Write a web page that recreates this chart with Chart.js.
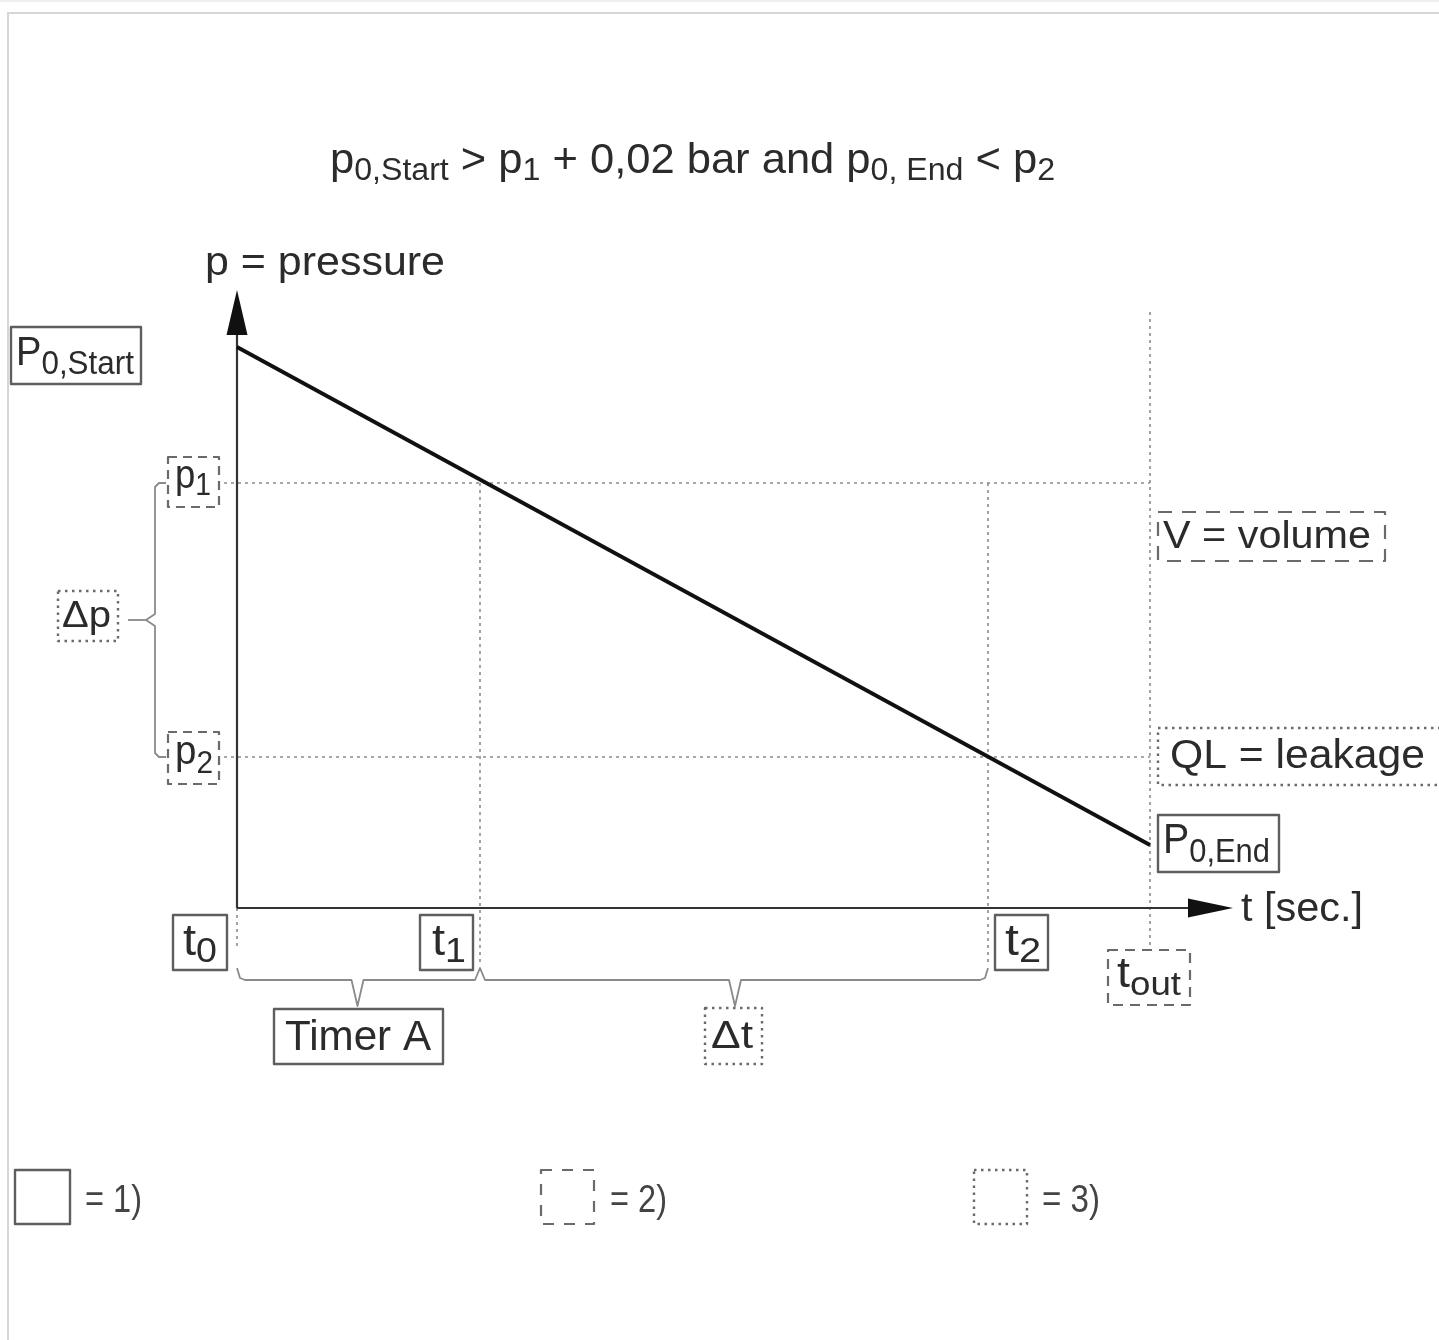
<!DOCTYPE html>
<html>
<head>
<meta charset="utf-8">
<title>Pressure decay test</title>
<script src="https://cdn.jsdelivr.net/npm/chart.js@4.4.1/dist/chart.umd.min.js"></script>
<style>
  html, body { margin: 0; padding: 0; background: #fff; overflow: hidden; }
  #chart { display: block; }
</style>
</head>
<body>
<canvas id="chart" width="1439" height="1340"></canvas>
<script>
  // ── Data ───────────────────────────────────────────────────────
  // time marks on the t axis (abstract seconds, 0..100 over the axis)
  const timeNames  = ["t0", "t1", "t2", "tout"];
  const timeValues = [0, 24.3, 75.1, 91.3];

  // pressure thresholds (abstract units, 0..64 over the axis)
  const levelNames  = ["p1", "p2"];
  const levelValues = [42.5, 15.1];

  // the pressure curve: p0,Start at t0 down to p0,End at tout
  const curveTimes     = [0, 91.3];
  const curvePressures = [56.1, 6.3];

  // ── Styles ─────────────────────────────────────────────────────
  const FONT      = '"Liberation Sans", Arial, Helvetica, sans-serif';
  const textColor = "#2b2b2b";
  const boxColor  = "#5e5e5e";
  const guideGrey = "#8c8c8c";

  const tVal = (n) => timeValues[timeNames.indexOf(n)];
  const pVal = (n) => levelValues[levelNames.indexOf(n)];

  function guide(points) {
    return {
      data: points,
      borderColor: guideGrey,
      borderWidth: 1.6,
      borderDash: [3, 4],
      pointRadius: 0,
      clip: false,
      order: 3,
    };
  }

  const datasets = [
    // axes
    { data: [{ x: 0, y: 0 }, { x: 0, y: 57.6 }], borderColor: "#333", borderWidth: 2.2, pointRadius: 0, clip: false, order: 2 },
    { data: [{ x: 0, y: 0 }, { x: 95.2, y: 0 }], borderColor: "#333", borderWidth: 2.2, pointRadius: 0, clip: false, order: 2 },
    // pressure levels p1, p2
    guide([{ x: -2.0, y: pVal("p1") }, { x: tVal("tout"), y: pVal("p1") }]),
    guide([{ x: -2.0, y: pVal("p2") }, { x: tVal("tout"), y: pVal("p2") }]),
    // time marks
    guide([{ x: tVal("t0"), y: 0 }, { x: tVal("t0"), y: -3.8 }]),
    guide([{ x: tVal("t1"), y: pVal("p1") }, { x: tVal("t1"), y: -5.8 }]),
    guide([{ x: tVal("t2"), y: pVal("p1") }, { x: tVal("t2"), y: -5.8 }]),
    guide([{ x: tVal("tout"), y: 59.6 }, { x: tVal("tout"), y: -3.8 }]),
    // pressure curve
    {
      data: curveTimes.map((t, i) => ({ x: t, y: curvePressures[i] })),
      borderColor: "#111",
      borderWidth: 3.8,
      pointRadius: 0,
      clip: false,
      order: 1,
    },
  ];

  // ── Drawing helpers ────────────────────────────────────────────
  // runs: [[text, isSub], ...]; o: { size, sub, subDy, width }
  function drawRich(ctx, runs, x, baseline, o) {
    ctx.save();
    let w = 0;
    runs.forEach(([t, sub]) => {
      ctx.font = `${sub ? o.sub : o.size}px ${FONT}`;
      w += ctx.measureText(t).width;
    });
    const sx = o.width ? o.width / w : 1;
    ctx.translate(x, baseline);
    ctx.scale(sx, 1);
    ctx.fillStyle = o.color || textColor;
    ctx.textBaseline = "alphabetic";
    let cx = 0;
    runs.forEach(([t, sub]) => {
      ctx.font = `${sub ? o.sub : o.size}px ${FONT}`;
      ctx.fillText(t, cx, sub ? o.subDy : 0);
      cx += ctx.measureText(t).width;
    });
    ctx.restore();
  }

  function drawBox(ctx, x, y, w, h, style, dash) {
    ctx.save();
    ctx.fillStyle = "#fff";
    ctx.fillRect(x, y, w, h);
    ctx.strokeStyle = boxColor;
    if (style === "solid") { ctx.lineWidth = 2.4; ctx.setLineDash([]); }
    if (style === "dashed") { ctx.lineWidth = 2.2; ctx.setLineDash(dash || [10, 7]); ctx.strokeStyle = "#6a6a6a"; }
    if (style === "dotted") { ctx.lineWidth = 2.4; ctx.setLineDash([2.5, 4.5]); ctx.strokeStyle = "#6a6a6a"; }
    ctx.strokeRect(x, y, w, h);
    ctx.restore();
  }

  function path(ctx, pts) {
    ctx.beginPath();
    pts.forEach(([x, y], i) => (i ? ctx.lineTo(x, y) : ctx.moveTo(x, y)));
    ctx.stroke();
  }

  // ── Annotation plugin ──────────────────────────────────────────
  const diagramPlugin = {
    id: "diagram",
    beforeDraw(chart) {
      const ctx = chart.ctx;
      ctx.save();
      ctx.fillStyle = "#fff";
      ctx.fillRect(0, 0, chart.width, chart.height);
      // page frame
      ctx.strokeStyle = "#d6d6d6";
      ctx.lineWidth = 2;
      path(ctx, [[8, 1340], [8, 13], [1439, 13]]);
      ctx.strokeStyle = "#efefef";
      path(ctx, [[0, 1], [1439, 1]]);
      ctx.restore();
    },
    afterDatasetsDraw(chart) {
      const ctx = chart.ctx;
      const xs = chart.scales.x, ys = chart.scales.y;
      const X = (v) => xs.getPixelForValue(v);
      const Y = (v) => ys.getPixelForValue(v);
      const x0 = X(0), y0 = Y(0);

      ctx.save();
      // arrow heads
      ctx.fillStyle = "#111";
      ctx.beginPath();
      ctx.moveTo(x0, Y(61.8));
      ctx.lineTo(x0 - 10.5, Y(57.3));
      ctx.lineTo(x0 + 10.5, Y(57.3));
      ctx.closePath();
      ctx.fill();
      ctx.beginPath();
      ctx.moveTo(X(99.6), y0);
      ctx.lineTo(X(95.1), y0 - 9.5);
      ctx.lineTo(X(95.1), y0 + 9.5);
      ctx.closePath();
      ctx.fill();

      // braces
      ctx.strokeStyle = "#8a8a8a";
      ctx.lineWidth = 1.8;
      ctx.lineJoin = "round";
      const yp1 = Y(pVal("p1")), yp2 = Y(pVal("p2"));
      const ym = (yp1 + yp2) / 2;
      path(ctx, [[166, yp1], [159, yp1], [155, yp1 + 4], [155, ym - 6], [146, ym], [155, ym + 6], [155, yp2 - 4], [159, yp2], [166, yp2]]);
      path(ctx, [[128, ym], [146, ym]]);

      const xt0 = X(tVal("t0")), xt1 = X(tVal("t1")), xt2 = X(tVal("t2"));
      const yb = 980, yTop = 968, yTip = 1006;
      const mA = (xt0 + xt1) / 2 - 1, mB = (xt1 + xt2) / 2 + 1;
      path(ctx, [[xt0, yTop], [xt0 + 3, yb - 2], [xt0 + 8, yb], [mA - 6, yb], [mA, yTip], [mA + 6, yb], [xt1 - 5, yb], [xt1, yTop], [xt1 + 5, yb],
                 [mB - 6, yb], [mB, yTip], [mB + 6, yb], [xt2 - 8, yb], [xt2 - 3, yb - 2], [xt2, yTop]]);

      // boxes
      const yt = 915, ht = 55;
      drawBox(ctx, 11, 327, 130, 57, "solid");
      drawBox(ctx, 168, yp1 - 26, 51, 50, "dashed", [9, 6]);
      drawBox(ctx, 168, yp2 - 25, 51, 52, "dashed", [9, 6]);
      drawBox(ctx, 58, ym - 29, 60, 50, "dotted");
      drawBox(ctx, xt0 - 64, yt, 54, ht, "solid");
      drawBox(ctx, xt1 - 60, yt, 53, ht, "solid");
      drawBox(ctx, xt2 + 7, yt, 53, ht, "solid");
      drawBox(ctx, X(tVal("tout")) - 42, 950, 82, 55, "dashed");
      drawBox(ctx, 274, 1009, 169, 55, "solid");
      drawBox(ctx, mB - 30, 1008, 57, 56, "dotted");
      drawBox(ctx, 1158, 512, 227, 49, "dashed", [14, 10]);
      drawBox(ctx, 1158, 728, 300, 57, "dotted");
      drawBox(ctx, 1158, 815, 121, 57, "solid");

      // box texts
      drawRich(ctx, [["P", 0], ["0,Start", 1]], 16, 365, { size: 40, sub: 33, subDy: 9, width: 118 });
      drawRich(ctx, [["p", 0], ["1", 1]], 175, yp1 + 5, { size: 40, sub: 31, subDy: 7, width: 36 });
      drawRich(ctx, [["p", 0], ["2", 1]], 175, yp2 + 7, { size: 40, sub: 31, subDy: 9, width: 38 });
      drawRich(ctx, [["\u0394p", 0]], 62, ym + 7, { size: 36, width: 49 });
      drawRich(ctx, [["t", 0], ["0", 1]], xt0 - 54, 955, { size: 44, sub: 35, subDy: 7, width: 34 });
      drawRich(ctx, [["t", 0], ["1", 1]], xt1 - 48, 955, { size: 44, sub: 35, subDy: 7, width: 34 });
      drawRich(ctx, [["t", 0], ["2", 1]], xt2 + 17, 955, { size: 44, sub: 35, subDy: 7, width: 36 });
      drawRich(ctx, [["t", 0], ["out", 1]], X(tVal("tout")) - 33, 987, { size: 42, sub: 33, subDy: 8, width: 64 });
      drawRich(ctx, [["Timer A", 0]], 285, 1050, { size: 42, width: 146 });
      drawRich(ctx, [["\u0394t", 0]], mB - 24, 1048, { size: 38, width: 42 });
      drawRich(ctx, [["V = volume", 0]], 1163, 548, { size: 38, width: 208 });
      drawRich(ctx, [["QL = leakage", 0]], 1170, 768, { size: 40, width: 255 });
      drawRich(ctx, [["P", 0], ["0,End", 1]], 1163, 853, { size: 42, sub: 33, subDy: 9, width: 107 });

      // axis titles
      drawRich(ctx, [["p = pressure", 0]], 205, 275, { size: 40, width: 240 });
      drawRich(ctx, [["t [sec.]", 0]], 1241, 921, { size: 40, width: 122 });

      // headline condition
      drawRich(ctx, [["p", 0], ["0,Start", 1], [" > p", 0], ["1", 1], [" + 0,02 bar and p", 0], ["0, End", 1], [" < p", 0], ["2", 1]],
        330, 173, { size: 42, sub: 31, subDy: 7, width: 725 });

      // key of box styles
      drawBox(ctx, 15, 1170, 55, 54, "solid");
      drawBox(ctx, 541, 1170, 53, 54, "dashed", [11, 10]);
      drawBox(ctx, 974, 1170, 53, 54, "dotted");
      drawRich(ctx, [["= 1)", 0]], 85, 1212, { size: 38, width: 57, color: "#444" });
      drawRich(ctx, [["= 2)", 0]], 610, 1212, { size: 38, width: 57, color: "#444" });
      drawRich(ctx, [["= 3)", 0]], 1042, 1212, { size: 38, width: 58, color: "#444" });
      ctx.restore();
    },
  };

  // ── Chart ──────────────────────────────────────────────────────
  new Chart(document.getElementById("chart"), {
    type: "line",
    data: { datasets },
    options: {
      responsive: false,
      animation: false,
      devicePixelRatio: 1,
      layout: { padding: { left: 237, right: 202, top: 268, bottom: 432 } },
      scales: {
        x: { type: "linear", min: 0, max: 100, display: false },
        y: { type: "linear", min: 0, max: 64, display: false },
      },
      plugins: { legend: { display: false }, tooltip: { enabled: false } },
      elements: { line: { tension: 0 } },
    },
    plugins: [diagramPlugin],
  });
</script>
</body>
</html>
